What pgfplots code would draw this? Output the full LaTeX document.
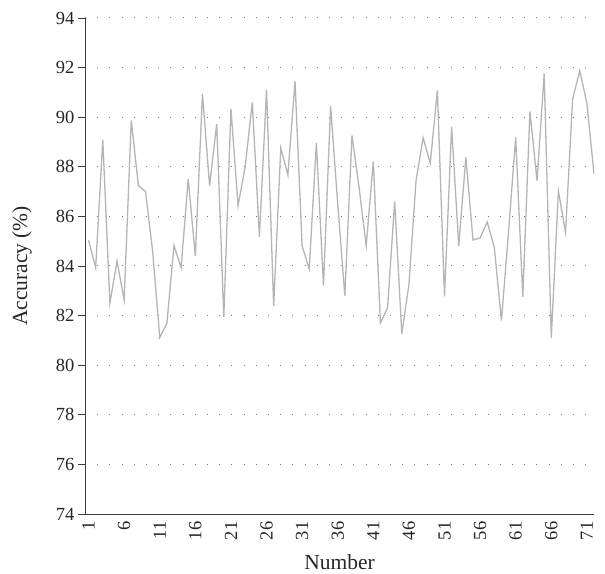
\documentclass[border=0pt]{standalone}
\usepackage{fontspec}
\setmainfont{Liberation Serif}
\usepackage{pgfplots}
\usepackage{pgfplotstable}
\pgfplotsset{compat=1.18}
\definecolor{linegray}{RGB}{180,180,185}
\definecolor{axgray}{RGB}{60,60,60}
\definecolor{dotgray}{RGB}{120,120,120}
\pgfplotstableread{
x y
1 85.04
2 83.93
3 89.09
4 82.50
5 84.20
6 82.63
7 89.87
8 87.24
9 87.01
10 84.60
11 81.12
12 81.68
13 84.83
14 83.93
15 87.51
16 84.40
17 90.95
18 87.24
19 89.73
20 81.95
21 90.34
22 86.43
23 88.00
24 90.60
25 85.18
26 91.11
27 82.38
28 88.76
29 87.67
30 91.45
31 84.81
32 83.88
33 88.95
34 83.21
35 90.45
36 86.50
37 82.81
38 89.26
39 87.17
40 84.81
41 88.22
42 81.70
43 82.31
44 86.60
45 81.27
46 83.25
47 87.44
48 89.17
49 88.14
50 91.08
51 82.78
52 89.62
53 84.81
54 88.38
55 85.05
56 85.13
57 85.77
58 84.74
59 81.80
60 85.40
61 89.19
62 82.76
63 90.23
64 87.44
65 91.76
66 81.10
67 87.03
68 85.35
69 90.74
70 91.87
71 90.57
72 87.71
}\datatable
\begin{document}
\begin{tikzpicture}
\begin{axis}[
  scale only axis, width=509pt, height=496pt,
  xmin=0.5, xmax=72, ymin=74, ymax=94,
  axis x line*=bottom, axis y line*=left,
  axis line style={axgray, line width=0.9pt},
  xtick={1,6,...,71},
  ytick={74,76,...,94},
  tick align=outside,
  major tick length=7pt,
  x tick style={draw=none},
  y tick style={axgray, line width=0.9pt},
  xticklabel shift=-3pt,
  ymajorgrids,
  grid style={dotgray, line width=1pt, dash pattern=on 1pt off 11.2pt},
  x tick label style={rotate=90, anchor=east, font=\fontsize{18.5}{20}\selectfont, text=black!85},
  y tick label style={font=\fontsize{18.5}{20}\selectfont, text=black!85},
  xlabel={Number}, ylabel={Accuracy (\%)},
  label style={font=\fontsize{21.5}{24}\selectfont, text=black!85},
  xlabel style={at={(axis description cs:0.5,-0.097)}, anchor=center},
  ylabel style={at={(axis description cs:-0.124,0.5)}, anchor=center},
  /pgf/number format/assume math mode=true,
]
\addplot[linegray, line width=1.3pt] table[x=x, y=y] {\datatable};
\coordinate (sw) at (rel axis cs:0,0);
\end{axis}
\pgfresetboundingbox
\path[use as bounding box] ([xshift=-85pt,yshift=-59pt]sw) rectangle ++(605pt,573pt);
\end{tikzpicture}
\end{document}
